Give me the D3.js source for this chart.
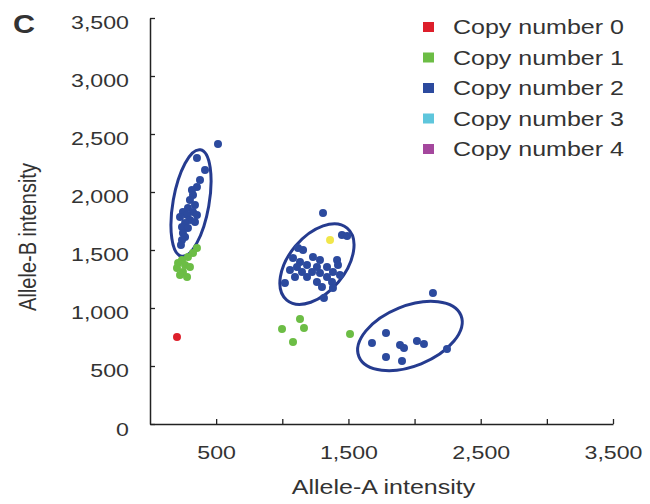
<!DOCTYPE html>
<html>
<head>
<meta charset="utf-8">
<title>Allele intensity scatter</title>
<script src="https://cdn.jsdelivr.net/npm/d3@7"></script>
<style>
  body { margin: 0; background: #fff; }
  text { font-family: "Liberation Sans", Arial, Helvetica, sans-serif; fill: #333; }
</style>
</head>
<body>
<div id="chart"></div>
<script>
// axis ticks
var xTicks = [500, 1000, 1500, 2000, 2500, 3000, 3500];
var xTickLabels = ["500", "", "1,500", "", "2,500", "", "3,500"];
var yTicks = [0, 500, 1000, 1500, 2000, 2500, 3000, 3500];
var yTickLabels = ["0", "500", "1,000", "1,500", "2,000", "2,500", "3,000", "3,500"];

var legendLabels = ["Copy number 0", "Copy number 1", "Copy number 2", "Copy number 3", "Copy number 4"];

// [allele-A, allele-B]
var copy0 = [[204, 750]];
var copy1 = [
  [355, 1517], [325, 1474], [287, 1440], [242, 1414], [212, 1388], [265, 1371],
  [302, 1353], [204, 1345], [249, 1310], [227, 1284], [280, 1267],
  [998, 819], [1164, 828], [1081, 707], [1134, 905], [1512, 776]
];
var copy2 = [
  // cluster near (300, 1900)
  [514, 2414], [355, 2293], [416, 2190], [378, 2103], [355, 2043], [317, 2017],
  [325, 1974], [302, 1931], [340, 1888], [287, 1862], [249, 1828], [325, 1828],
  [355, 1802], [280, 1802], [227, 1785], [302, 1759], [340, 1741], [265, 1733],
  [242, 1698], [287, 1690], [249, 1647], [265, 1612], [242, 1586], [234, 1543],
  // cluster near (1250, 1400)
  [1308, 1819], [1451, 1629], [1490, 1620], [1119, 1517], [1157, 1500], [1232, 1440],
  [1081, 1431], [1134, 1397], [1285, 1414], [1414, 1414], [1111, 1353], [1187, 1371],
  [1262, 1353], [1338, 1353], [1421, 1371], [1058, 1328], [1149, 1310], [1225, 1310],
  [1285, 1302], [1383, 1310], [1096, 1267], [1187, 1267], [1338, 1267], [1436, 1284],
  [1020, 1216], [1262, 1224], [1376, 1224], [1300, 1181], [1383, 1172], [1315, 1086],
  // cluster near (1950, 700)
  [2139, 1129], [1784, 784], [1678, 698], [1890, 681], [1920, 655], [2018, 716],
  [2071, 690], [1784, 578], [1905, 543], [2245, 647]
];
var copy3 = [];
var copy4 = [];
var unassigned = [[1361, 1586]];

// cluster ellipses: centre, semi-axes (x units, y units), tilt in degrees
var ellipseCx = [310, 1262, 1965];
var ellipseCy = [1905, 1379, 759];
var ellipseRx = [136, 212, 416];
var ellipseRy = [466, 405, 259];
var ellipseTilt = [10, 40, -22];

var colors = ["#dd1f2b", "#6cbd45", "#2c4a9e", "#5ec6dc", "#a4479d"];
var series = [copy0, copy1, copy2, copy3, copy4];

var width = 650, height = 504;
var stretch = 1.22; // the original figure is widened a bit

var svg = d3.select("#chart").append("svg")
  .attr("width", width).attr("height", height);

var x = d3.scaleLinear().domain([0, 3500]).range([150, 613]);
var y = d3.scaleLinear().domain([0, 3500]).range([424, 18]);

// axes
var xAxis = d3.axisBottom(x).tickValues(xTicks).tickSize(-5).tickSizeOuter(0).tickPadding(22)
  .tickFormat(function(d, i) { return xTickLabels[i]; });
var yAxis = d3.axisLeft(y).tickValues(yTicks).tickSize(-5).tickSizeOuter(0).tickPadding(21 / stretch)
  .tickFormat(function(d, i) { return yTickLabels[i]; });

var gx = svg.append("g").attr("transform", "translate(0," + y(0) + ")").call(xAxis);
var gy = svg.append("g").attr("transform", "translate(" + x(0) + ",0)").call(yAxis);

[gx, gy].forEach(function(g) {
  g.select(".domain").attr("stroke", "#222").attr("stroke-width", 1.5);
  g.selectAll(".tick line").attr("stroke", "#222").attr("stroke-width", 1.3);
  g.selectAll(".tick text").attr("font-size", 19).attr("fill", "#333")
    .attr("font-family", "'Liberation Sans', Arial, sans-serif")
    .attr("transform", "scale(" + stretch + ",1)");
});
gy.selectAll(".tick text").attr("dy", "0.55em");
gy.select(".tick text").attr("dy", "0.6em");

// ellipses
var ellipseData = ellipseCx.map(function(c, i) {
  return { cx: c, cy: ellipseCy[i], rx: ellipseRx[i], ry: ellipseRy[i], tilt: ellipseTilt[i] };
});
svg.selectAll("ellipse.cluster").data(ellipseData).enter().append("ellipse")
  .attr("class", "cluster")
  .attr("rx", function(d) { return x(d.rx) - x(0); })
  .attr("ry", function(d) { return y(0) - y(d.ry); })
  .attr("transform", function(d) {
    return "translate(" + x(d.cx) + "," + y(d.cy) + ") rotate(" + d.tilt + ")";
  })
  .attr("fill", "none").attr("stroke", "#253b8f").attr("stroke-width", 3);

// points
series.forEach(function(pts, k) {
  svg.append("g").selectAll("circle").data(pts).enter().append("circle")
    .attr("cx", function(d) { return x(d[0]); })
    .attr("cy", function(d) { return y(d[1]); })
    .attr("r", 4)
    .attr("fill", colors[k]);
});
svg.append("g").selectAll("circle").data(unassigned).enter().append("circle")
  .attr("cx", function(d) { return x(d[0]); })
  .attr("cy", function(d) { return y(d[1]); })
  .attr("r", 4)
  .attr("fill", "#f1e64a");

// legend
var legend = svg.append("g").selectAll("g").data(legendLabels).enter().append("g")
  .attr("transform", function(d, i) { return "translate(423," + (27 + i * 30.5) + ")"; });
legend.append("rect").attr("x", 0).attr("y", -5).attr("width", 11).attr("height", 10)
  .attr("fill", function(d, i) { return colors[i]; });
legend.append("text").text(function(d) { return d; })
  .attr("transform", "translate(30,0) scale(" + stretch + ",1)")
  .attr("dy", "0.35em").attr("font-size", 20.5);

// axis titles and panel letter
svg.append("text").text("Allele-A intensity")
  .attr("transform", "translate(" + ((x(0) + x(3500)) / 2 + 2) + ",494) scale(" + stretch + ",1)")
  .attr("text-anchor", "middle").attr("font-size", 20.5);
svg.append("text").text("Allele-B intensity")
  .attr("transform", "translate(36,237) scale(" + stretch + ",1) rotate(-90)")
  .attr("text-anchor", "middle").attr("font-size", 20);
svg.append("text").text("C")
  .attr("transform", "translate(13,33) scale(" + stretch + ",1)")
  .attr("font-size", 25).attr("font-weight", "bold").attr("fill", "#111");
</script>
</body>
</html>
